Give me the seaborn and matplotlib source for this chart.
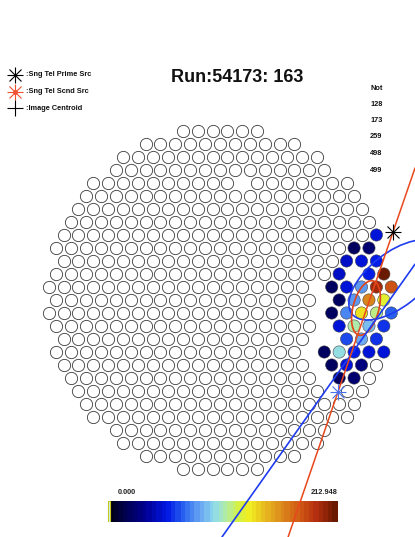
import numpy as np
import pandas as pd
import matplotlib
matplotlib.use("Agg")
import matplotlib.pyplot as plt
import seaborn as sns
from matplotlib.colors import LinearSegmentedColormap
from matplotlib.patches import Ellipse, Rectangle

sns.set_theme(style="white")
plt.rcParams['font.family'] = ['Liberation Sans', 'DejaVu Sans']

# ---- event data -------------------------------------------------------
run_id = 54173
event_id = 163
charge_min = 0.0
charge_max = 212.948
not_used = [128, 173, 259, 498, 499]

# lit pixels: camera row, column (in pixel spacings) and charge
lit_row = [5, 4, 4, 3, 3, 3, 2, 2, 2, 1, 1, 1, 1, 1, 0, 0, 0, 0,
           -1, -1, -1, -1, -1, -2, -2, -2, -2, -3, -3, -3,
           -4, -4, -4, -4, -4, -5, -5, -5, -6, -6]
lit_col = [10.5, 9, 10, 8.5, 9.5, 10.5, 8, 10, 11, 7.5, 8.5, 9.5, 10.5, 11.5,
           8, 9, 10, 11, 7.5, 8.5, 9.5, 10.5, 11.5, 8, 9, 10, 11, 8.5, 9.5, 10.5,
           7, 8, 9, 10, 11, 7.5, 8.5, 9.5, 8, 9]
lit_charge = [50, 22, 25, 45, 50, 55, 48, 55, 212.9, 18, 52, 82, 198, 178,
              20, 80, 160, 125, 20, 78, 135, 112, 68, 50, 108, 92, 62, 65, 85, 58,
              18, 100, 55, 52, 50, 20, 50, 30, 18, 25]

# pixels in the image with zero charge (drawn blank)
zero_row = [2, 4, 0, -1, -2, -3, -3, -4, -5, -6, -7, 1]
zero_col = [9, 11, 7, 6.5, 7, 6.5, 7.5, 6, 6.5, 7, 7.5, 6.5]

# switched-off pixels (not drawn)
off_row = [9]
off_col = [1.5]

# Hillas ellipses (deg): centre x, centre y, length, width, angle
big_ell = (1.762, 0.20, 1.10, 0.54, 38)
small_ell = (1.47, -0.08, 0.56, 0.26, 75)
axis_point = (1.944, 0.33)
axis_angle = 54.5
prime_src = (1.742, 0.679)
scnd_src = (1.188, -0.919)

# ---- camera layout (499 pixel hexagonal camera) ----------------------
def camera_layout():
    rows, cols = [], []
    for r in range(-12, 13):
        half = (24 - abs(r)) / 2
        for u in np.arange(-half, half + 0.5, 1.0):
            if abs(r) == 12 and abs(u) == 6:
                continue
            if r == 0 and abs(u) == 12:
                continue
            rows.append(r); cols.append(u)
    for r in (13, -13):
        for u in np.arange(-2.5, 3.0, 1.0):
            rows.append(r); cols.append(u)
    for r in range(4, 10):
        for sr in (r, -r):
            for su in (1, -1):
                rows.append(sr); cols.append(su * (13 - r / 2))
    return pd.DataFrame({"row": rows, "col": cols})

spacing = 0.15
cam = camera_layout()
key = lambda r, c: (int(r), float(c))
skip = {key(r, c) for r, c in zip(lit_row + zero_row + off_row,
                                  lit_col + zero_col + off_col)}
cam = cam[[key(r, c) not in skip for r, c in zip(cam.row, cam.col)]]
cam["x"] = cam.col * spacing
cam["y"] = cam.row * spacing * np.sqrt(3) / 2

lit = pd.DataFrame({"x": np.array(lit_col) * spacing,
                    "y": np.array(lit_row) * spacing * np.sqrt(3) / 2,
                    "charge": lit_charge})

cmap = LinearSegmentedColormap.from_list("evt", [
    (0.00, "#00001a"), (0.08, "#00005a"), (0.16, "#000096"), (0.25, "#0018e6"),
    (0.33, "#2f6af0"), (0.40, "#6aa8f2"), (0.46, "#8fdcee"), (0.52, "#b4ec9c"),
    (0.57, "#d4f048"), (0.62, "#f0ee20"), (0.68, "#e8c020"), (0.76, "#dc8a1c"),
    (0.84, "#d05a14"), (0.91, "#b83010"), (1.00, "#6a1a00")], N=48)

# ---- figure ------------------------------------------------------------
W, H = 415, 537
fig = plt.figure(figsize=(W / 100, H / 100), dpi=100)
x0, y0, kx, ky = 220, 300, 99.3, 100.1

cax = fig.add_axes([108 / W, 1 - 522 / H, 230 / W, 21 / H])
cax.set_zorder(1)
sns.heatmap(np.linspace(charge_min, charge_max, 120)[None, :], ax=cax,
            cmap=cmap, vmin=charge_min, vmax=charge_max, cbar=False,
            xticklabels=False, yticklabels=False)
cax.add_patch(Rectangle((0, 0), 1.2, 1, facecolor="#c8f4f4",
                        edgecolor="#c8c820", lw=0.8))

ax = fig.add_axes([0, 0, 1, 1])
ax.set_zorder(2)
ax.patch.set_alpha(0)
ax.set_xlim(-x0 / kx, (W - x0) / kx)
ax.set_ylim((y0 - H) / ky, y0 / ky)
ax.axis("off")

sns.scatterplot(data=cam, x="x", y="y", s=78, color="white",
                edgecolor="#3a3a3a", linewidth=0.6, ax=ax, legend=False)
sns.scatterplot(data=lit, x="x", y="y", hue="charge", palette=cmap,
                hue_norm=(charge_min, charge_max), s=78,
                edgecolor="#444444", linewidth=0.4, ax=ax, legend=False)

ax.add_patch(Ellipse(big_ell[:2], big_ell[2], big_ell[3], angle=big_ell[4],
                     fill=False, edgecolor="#1f3cf0", lw=1.2, zorder=5))
ax.add_patch(Ellipse(small_ell[:2], small_ell[2], small_ell[3], angle=small_ell[4],
                     fill=False, edgecolor="#e04418", lw=1.2, zorder=5))
ax.axline(axis_point, slope=np.tan(np.radians(axis_angle)),
          color="#1f3cf0", lw=1.2, zorder=5)
ax.axline(prime_src, scnd_src, color="#e8481c", lw=1.1, zorder=5)

for mk, ms in (("+", 11), ("x", 8)):
    ax.plot(*prime_src, marker=mk, ms=ms, color="black", mew=0.8, zorder=6)
    ax.plot(*scnd_src, marker=mk, ms=ms, color="#4a70f0", mew=0.8, zorder=6)

# ---- overlay texts and legend (pixel coordinates) ----------------------
ov = fig.add_axes([0, 0, 1, 1])
ov.set_zorder(3)
ov.patch.set_alpha(0)
ov.set_xlim(0, W)
ov.set_ylim(H, 0)
ov.axis("off")

ov.text(237, 78, f"Run:{run_id}: {event_id}", ha="center", va="center",
        fontsize=13, fontweight="bold", color="#111111")

legend_items = [(":Sng Tel Prime Src", "black", True, False),
                (":Sng Tel Scnd Src", "#f05030", True, True),
                (":Image Centroid", "black", False, False)]
for i, (label, col, star, dot) in enumerate(legend_items):
    ly = 75 + i * 16.5
    ov.plot(15, ly, marker="+", ms=11.5, color=col, mew=0.8)
    if star:
        ov.plot(15, ly, marker="x", ms=8.5, color=col, mew=0.8)
    if dot:
        ov.plot(15, ly, marker="o", ms=2.5, color=col)
    ov.text(26, ly, label, ha="left", va="center", fontsize=5.3,
            fontweight="bold", color="#111111")

ov.text(370, 88, "Not", ha="left", va="center", fontsize=5.3,
        fontweight="bold", color="#111111")
for i, pix in enumerate(not_used):
    ov.text(370, 104 + i * 16.5, str(pix), ha="left", va="center",
            fontsize=5.3, fontweight="bold", color="#111111")

ov.text(118, 493, f"{charge_min:.3f}", ha="left", va="center", fontsize=5.3,
        fontweight="bold", color="#222222")
ov.text(338, 493, f"{charge_max:.3f}", ha="right", va="center", fontsize=5.3,
        fontweight="bold", color="#222222")

fig.savefig("out.png", dpi=100)
